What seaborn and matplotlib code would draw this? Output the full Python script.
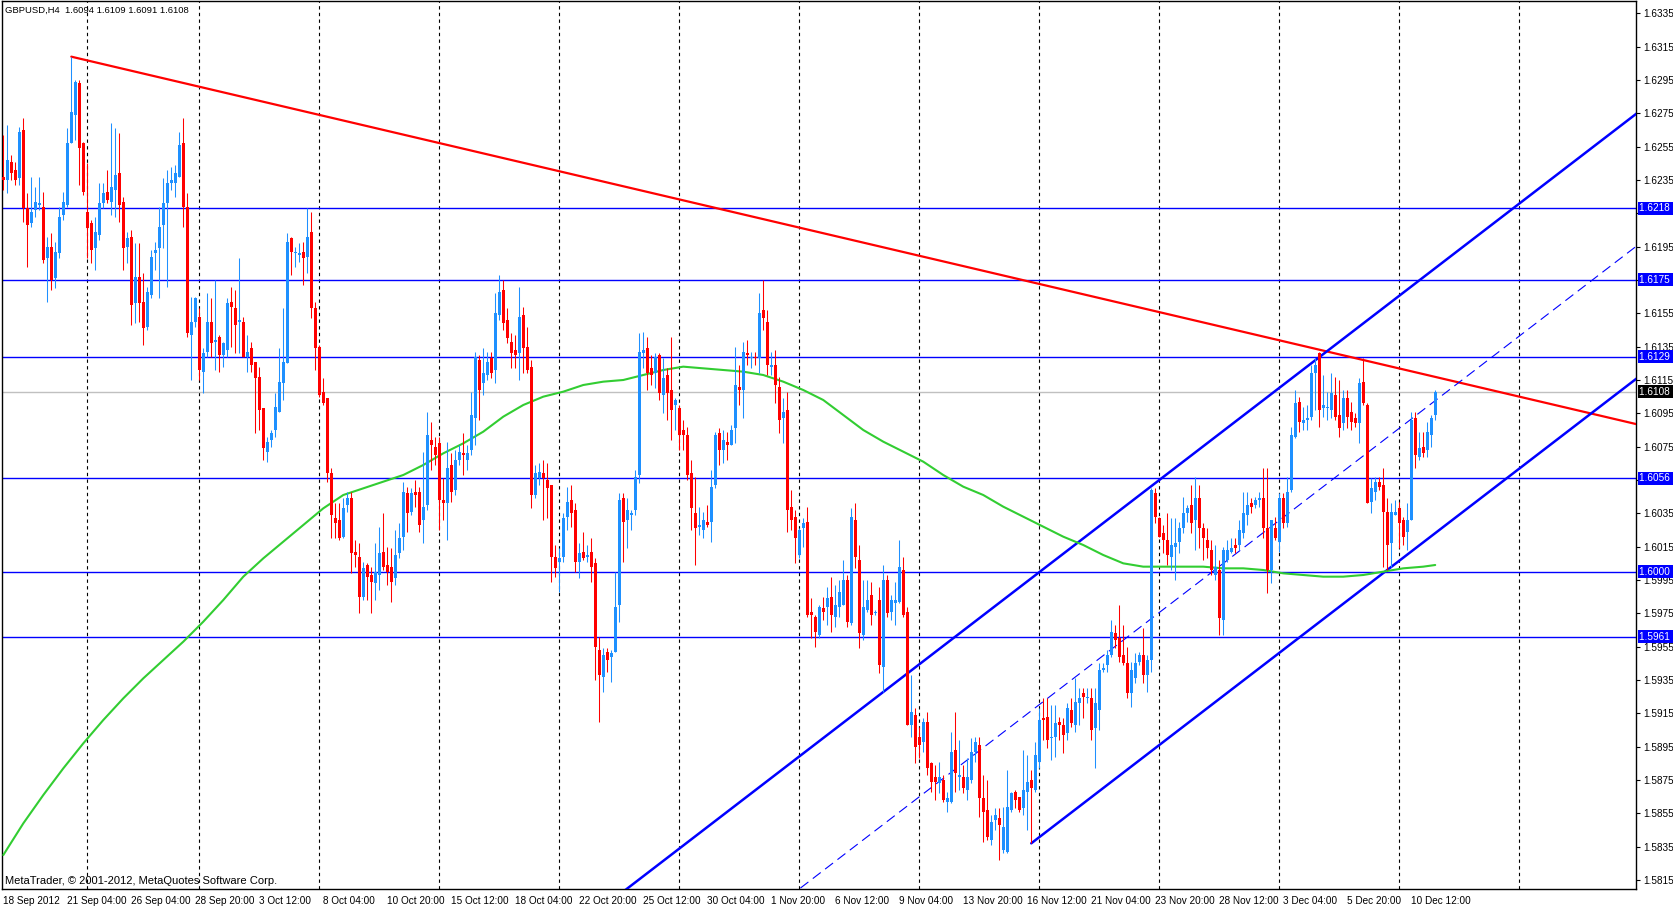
import numpy as np
import pandas as pd
import matplotlib
matplotlib.use("Agg")
import matplotlib.pyplot as plt
import matplotlib.transforms as mtransforms
import seaborn as sns

# GBPUSD H4 candles, in points (price * 10000)
open_pts = [
    16237, 16235, 16246, 16241, 16236, 16265, 16218, 16209, 16217, 16220,
    16219, 16188, 16195, 16176, 16191, 16214, 16220, 16257, 16274, 16293,
    16257, 16216, 16209, 16194, 16202, 16221, 16228, 16222, 16229, 16239,
    16222, 16195, 16201, 16161, 16177, 16162, 16147, 16166, 16191, 16194,
    16208, 16221, 16233, 16233, 16237, 16257, 16219, 16142, 16150, 16153,
    16120, 16132, 16150, 16138, 16141, 16130, 16133, 16162, 16158, 16150,
    16150, 16129, 16134, 16126, 16117, 16098, 16072, 16079, 16085, 16096,
    16113, 16125, 16200, 16191, 16190, 16192, 16189, 16204, 16158, 16135,
    16108, 16104, 16059, 16032, 16031, 16021, 16040, 16044, 16012, 16009,
    15985, 16004, 15998, 15993, 15998, 16012, 16004, 16003, 15996, 16011,
    16021, 16047, 16036, 16048, 16048, 16031, 16040, 16079, 16075, 16077,
    16043, 16041, 16064, 16049, 16067, 16071, 16067, 16073, 16092, 16127,
    16113, 16118, 16128, 16121, 16154, 16169, 16151, 16138, 16133, 16131,
    16154, 16135, 16123, 16046, 16056, 16059, 16055, 16052, 16009, 16006,
    16009, 16033, 16043, 16037, 16006, 16012, 16009, 16012, 16005, 15953,
    15937, 15952, 15949, 15952, 15980, 16044, 16031, 16034, 16037, 16058,
    16131, 16134, 16122, 16119, 16130, 16106, 16118, 16109, 16100, 16098,
    16085, 16082, 16059, 16035, 16027, 16025, 16030, 16030, 16052, 16083,
    16073, 16078, 16076, 16086, 16111, 16109, 16131, 16128, 16129, 16128,
    16157, 16150, 16123, 16124, 16111, 16092, 16097, 16039, 16033, 16010,
    16026, 16030, 15976, 15973, 15962, 15978, 15979, 15985, 15973, 15979,
    15980, 15995, 15969, 16031, 16007, 15962, 15977, 15986, 15975, 15983,
    15943, 15995, 15976, 15981, 15982, 16001, 15976, 15908, 15914, 15901,
    15898, 15910, 15885, 15877, 15873, 15875, 15862, 15862, 15893, 15877,
    15877, 15869, 15875, 15892, 15896, 15864, 15857, 15839, 15851, 15852,
    15833, 15832, 15857, 15868, 15865, 15858, 15868, 15875, 15869, 15886,
    15912, 15913, 15900, 15901, 15910, 15908, 15903, 15917, 15908, 15921,
    15927, 15924, 15924, 15906, 15917, 15941, 15944, 15950, 15963, 15960,
    15950, 15945, 15927, 15936, 15946, 15950, 15938, 15947, 16047, 16032,
    16023, 16019, 16009, 16015, 16018, 16026, 16035, 16040, 16031, 16044,
    16026, 16019, 16013, 15998, 16001, 15971, 16007, 16012, 16016, 16016,
    16023, 16034, 16041, 16040, 16043, 16044, 16026, 16001, 16026, 16018,
    16044, 16029, 16049, 16081, 16102, 16089, 16091, 16093, 16119, 16131,
    16098, 16098, 16097, 16106, 16094, 16089, 16104, 16096, 16092, 16089,
    16114, 16100, 16042, 16048, 16054, 16052, 16036, 16017, 16034, 16038,
    16031, 16024, 16031, 16092, 16069, 16075, 16073, 16082, 16094,
]
high_pts = [
    16262, 16268, 16250, 16246, 16267, 16272, 16227, 16237, 16231, 16237,
    16228, 16201, 16203, 16198, 16219, 16228, 16266, 16309, 16295, 16295,
    16258, 16245, 16211, 16213, 16233, 16233, 16241, 16269, 16266, 16263,
    16225, 16204, 16205, 16197, 16197, 16179, 16171, 16193, 16198, 16219,
    16236, 16241, 16243, 16244, 16264, 16272, 16227, 16165, 16165, 16158,
    16134, 16167, 16164, 16175, 16142, 16138, 16164, 16171, 16169, 16188,
    16153, 16142, 16138, 16126, 16123, 16098, 16081, 16085, 16107, 16134,
    16158, 16203, 16201, 16195, 16197, 16198, 16218, 16216, 16162, 16136,
    16116, 16104, 16062, 16041, 16041, 16044, 16048, 16048, 16019, 16017,
    16006, 16005, 16003, 16017, 16027, 16035, 16015, 16014, 16025, 16029,
    16054, 16051, 16050, 16055, 16051, 16072, 16096, 16090, 16081, 16081,
    16056, 16078, 16071, 16073, 16076, 16083, 16076, 16108, 16132, 16130,
    16134, 16132, 16132, 16167, 16178, 16175, 16158, 16143, 16142, 16171,
    16159, 16147, 16127, 16064, 16065, 16067, 16065, 16052, 16016, 16014,
    16035, 16051, 16052, 16041, 16017, 16024, 16016, 16020, 16008, 15961,
    15954, 15954, 15953, 16000, 16047, 16047, 16044, 16037, 16061, 16143,
    16144, 16141, 16130, 16131, 16131, 16128, 16122, 16141, 16104, 16100,
    16091, 16087, 16067, 16057, 16039, 16036, 16040, 16061, 16084, 16086,
    16085, 16084, 16088, 16135, 16124, 16138, 16139, 16132, 16132, 16167,
    16175, 16157, 16132, 16133, 16117, 16104, 16108, 16049, 16037, 16026,
    16032, 16039, 15984, 15974, 15980, 15985, 15991, 15997, 15992, 15995,
    16007, 15998, 16038, 16041, 16016, 15995, 15995, 15994, 15977, 15991,
    16004, 15998, 15986, 15994, 16019, 16009, 15979, 15938, 15918, 15907,
    15912, 15916, 15886, 15884, 15886, 15878, 15868, 15904, 15916, 15899,
    15884, 15888, 15900, 15901, 15901, 15878, 15875, 15854, 15858, 15858,
    15859, 15881, 15868, 15869, 15865, 15893, 15890, 15881, 15898, 15918,
    15924, 15924, 15920, 15920, 15913, 15912, 15921, 15924, 15936, 15930,
    15930, 15930, 15930, 15930, 15945, 15945, 15953, 15971, 15968, 15980,
    15968, 15955, 15946, 15951, 15952, 15966, 15950, 16050, 16050, 16033,
    16028, 16035, 16032, 16032, 16030, 16045, 16040, 16052, 16057, 16052,
    16029, 16026, 16019, 16016, 16007, 16015, 16019, 16020, 16020, 16031,
    16048, 16048, 16044, 16045, 16048, 16062, 16062, 16031, 16033, 16047,
    16047, 16057, 16087, 16109, 16105, 16099, 16100, 16124, 16128, 16132,
    16118, 16108, 16119, 16117, 16115, 16109, 16109, 16102, 16095, 16116,
    16128, 16101, 16056, 16057, 16057, 16062, 16044, 16041, 16043, 16042,
    16033, 16041, 16096, 16096, 16084, 16084, 16090, 16094, 16109,
]
low_pts = [
    16229, 16227, 16235, 16232, 16232, 16210, 16183, 16207, 16213, 16217,
    16185, 16162, 16169, 16170, 16188, 16211, 16219, 16257, 16259, 16232,
    16226, 16188, 16185, 16181, 16199, 16218, 16221, 16214, 16213, 16210,
    16181, 16185, 16148, 16149, 16150, 16136, 16145, 16164, 16181, 16164,
    16194, 16171, 16229, 16225, 16237, 16207, 16141, 16115, 16147, 16115,
    16107, 16129, 16129, 16121, 16120, 16123, 16129, 16135, 16131, 16131,
    16129, 16120, 16120, 16083, 16085, 16067, 16066, 16075, 16081, 16096,
    16103, 16125, 16178, 16183, 16186, 16172, 16179, 16152, 16121, 16105,
    16100, 16054, 16020, 16020, 16019, 16020, 16036, 15999, 16003, 15975,
    15983, 15983, 15975, 15983, 15989, 16001, 15992, 15982, 15992, 16008,
    16013, 16024, 16034, 16039, 16024, 16017, 16037, 16061, 16064, 16025,
    16031, 16019, 16042, 16046, 16064, 16058, 16061, 16070, 16076, 16091,
    16106, 16115, 16116, 16113, 16151, 16145, 16137, 16122, 16122, 16115,
    16119, 16119, 16038, 16044, 16052, 16031, 16032, 15994, 15997, 15988,
    16006, 16025, 16027, 16000, 15996, 16007, 16006, 15994, 15935, 15910,
    15928, 15940, 15934, 15952, 15970, 16006, 16014, 16025, 16034, 16053,
    16122, 16109, 16112, 16110, 16103, 16095, 16091, 16079, 16085, 16073,
    16073, 16055, 16025, 16004, 16022, 16020, 16027, 16018, 16050, 16064,
    16065, 16067, 16076, 16077, 16100, 16092, 16124, 16122, 16124, 16119,
    16145, 16118, 16118, 16101, 16083, 16077, 16024, 16025, 16005, 16008,
    16015, 15973, 15960, 15955, 15960, 15971, 15968, 15964, 15967, 15973,
    15980, 15967, 15968, 16002, 15954, 15959, 15976, 15968, 15974, 15939,
    15928, 15973, 15971, 15968, 15981, 15973, 15908, 15901, 15885, 15888,
    15892, 15878, 15868, 15863, 15867, 15862, 15856, 15861, 15868, 15869,
    15867, 15863, 15873, 15886, 15853, 15838, 15839, 15836, 15845, 15827,
    15831, 15831, 15856, 15858, 15856, 15854, 15845, 15837, 15868, 15882,
    15899, 15894, 15887, 15889, 15899, 15891, 15899, 15907, 15904, 15908,
    15912, 15921, 15899, 15882, 15905, 15940, 15940, 15949, 15954, 15946,
    15944, 15924, 15919, 15933, 15944, 15933, 15928, 15940, 16029, 16021,
    16011, 16004, 16001, 15995, 16011, 16023, 16030, 16023, 16013, 16014,
    16007, 16008, 15998, 15995, 15962, 15962, 16006, 16011, 16011, 16013,
    16020, 16028, 16035, 16038, 16039, 16020, 15987, 15993, 16019, 16012,
    16026, 16027, 16048, 16080, 16084, 16085, 16085, 16091, 16097, 16087,
    16093, 16091, 16092, 16091, 16081, 16085, 16086, 16085, 16087, 16077,
    16100, 16041, 16035, 16043, 16049, 16003, 16001, 16003, 16034, 16014,
    16016, 16013, 16031, 16062, 16067, 16069, 16069, 16075, 16091,
]
close_pts = [
    16235, 16247, 16239, 16235, 16264, 16218, 16208, 16216, 16222, 16221,
    16187, 16195, 16175, 16192, 16213, 16222, 16257, 16276, 16294, 16254,
    16228, 16206, 16193, 16204, 16221, 16227, 16223, 16231, 16238, 16220,
    16194, 16200, 16160, 16177, 16161, 16146, 16168, 16189, 16193, 16207,
    16221, 16233, 16235, 16239, 16256, 16219, 16143, 16150, 16164, 16121,
    16131, 16150, 16137, 16139, 16130, 16137, 16161, 16159, 16148, 16151,
    16129, 16132, 16124, 16116, 16097, 16074, 16078, 16083, 16099, 16114,
    16126, 16198, 16192, 16192, 16191, 16188, 16201, 16158, 16134, 16106,
    16101, 16059, 16034, 16029, 16020, 16038, 16044, 16011, 16010, 15985,
    16002, 15997, 15994, 16000, 16011, 16003, 16000, 15994, 16010, 16020,
    16048, 16035, 16047, 16046, 16028, 16039, 16082, 16076, 16070, 16043,
    16041, 16062, 16048, 16067, 16072, 16070, 16071, 16094, 16129, 16109,
    16119, 16126, 16119, 16155, 16168, 16149, 16140, 16131, 16130, 16153,
    16134, 16121, 16046, 16059, 16060, 16056, 16050, 16009, 16002, 16008,
    16032, 16042, 16035, 16006, 16011, 16008, 16010, 16003, 15955, 15938,
    15950, 15947, 15951, 15979, 16043, 16030, 16037, 16035, 16057, 16132,
    16133, 16119, 16118, 16129, 16107, 16116, 16107, 16097, 16103, 16082,
    16082, 16058, 16038, 16026, 16028, 16031, 16028, 16051, 16082, 16073,
    16079, 16076, 16085, 16112, 16109, 16132, 16130, 16129, 16128, 16155,
    16152, 16124, 16124, 16112, 16091, 16096, 16037, 16031, 16020, 16025,
    16029, 15974, 15974, 15964, 15979, 15976, 15984, 15974, 15980, 15988,
    15995, 15970, 16033, 16009, 15963, 15979, 15983, 15974, 15976, 15944,
    15995, 15975, 15983, 15983, 16003, 15974, 15908, 15916, 15895, 15896,
    15910, 15882, 15874, 15874, 15877, 15863, 15864, 15892, 15879, 15878,
    15870, 15877, 15892, 15898, 15864, 15856, 15841, 15850, 15854, 15848,
    15847, 15859, 15867, 15863, 15857, 15869, 15874, 15870, 15890, 15911,
    15911, 15899, 15901, 15909, 15908, 15902, 15918, 15909, 15922, 15924,
    15925, 15925, 15905, 15921, 15941, 15942, 15950, 15964, 15959, 15949,
    15945, 15927, 15941, 15945, 15950, 15938, 15947, 16049, 16033, 16021,
    16019, 16010, 16016, 16017, 16026, 16035, 16038, 16029, 16044, 16026,
    16020, 16014, 16001, 16003, 15972, 16013, 16013, 16014, 16014, 16025,
    16035, 16040, 16039, 16043, 16044, 16026, 16001, 16031, 16020, 16044,
    16029, 16048, 16082, 16101, 16090, 16091, 16092, 16119, 16124, 16097,
    16100, 16099, 16107, 16093, 16086, 16104, 16093, 16090, 16089, 16113,
    16101, 16041, 16050, 16054, 16051, 16036, 16016, 16036, 16036, 16029,
    16021, 16031, 16091, 16070, 16074, 16071, 16084, 16092, 16108,
]

# moving average (green), sampled every 5 bars
ma_bars = list(range(0, 356, 5)) + [358]
ma_pts = [
    15830, 15849, 15866, 15882, 15897, 15911, 15924, 15936, 15947, 15958,
    15970, 15983, 15997, 16008, 16018, 16028, 16038, 16046, 16050, 16054,
    16058, 16064, 16071, 16077, 16084, 16093, 16100, 16105, 16108, 16112,
    16114, 16115, 16118, 16121, 16123, 16122, 16121, 16120, 16118, 16114,
    16109, 16103, 16094, 16085, 16078, 16072, 16066, 16058, 16051, 16046,
    16039, 16033, 16027, 16021, 16016, 16010, 16005, 16003, 16003, 16003,
    16003, 16002, 16002, 16001, 15999, 15998, 15997, 15997, 15998, 16000,
    16002, 16003, 16004,
]

date_labels = [
    "18 Sep 2012", "21 Sep 04:00", "26 Sep 04:00", "28 Sep 20:00", "3 Oct 12:00",
    "8 Oct 04:00", "10 Oct 20:00", "15 Oct 12:00", "18 Oct 04:00", "22 Oct 20:00",
    "25 Oct 12:00", "30 Oct 04:00", "1 Nov 20:00", "6 Nov 12:00", "9 Nov 04:00",
    "13 Nov 20:00", "16 Nov 12:00", "21 Nov 04:00", "23 Nov 20:00", "28 Nov 12:00",
    "3 Dec 04:00", "5 Dec 20:00", "10 Dec 12:00",
]
price_ticks = [
    1.6335, 1.6315, 1.6295, 1.6275, 1.6255, 1.6235, 1.6215, 1.6195, 1.6175,
    1.6155, 1.6135, 1.6115, 1.6095, 1.6075, 1.6055, 1.6035, 1.6015, 1.5995,
    1.5975, 1.5955, 1.5935, 1.5915, 1.5895, 1.5875, 1.5855, 1.5835, 1.5815,
]
week_bars = [21, 49, 79, 109, 139, 169, 199, 229, 259, 289, 319, 349, 379]
level_prices = [1.6218, 1.6175, 1.6129, 1.6056, 1.6000, 1.5961]
bid_price = 1.6108

# trend line anchors (bar, price)
red_line_bars = [17, 340]
red_line_prices = [1.6309, 1.6127]
channel_bars = [257, 346]
channel_prices = [1.5837, 1.6001]
channel_width = 0.0159

df = pd.DataFrame({
    "open": open_pts, "high": high_pts, "low": low_pts, "close": close_pts,
}) / 10000
df["high"] = df[["high", "open", "close"]].max(axis=1)
df["low"] = df[["low", "open", "close"]].min(axis=1)
df["bar"] = np.arange(len(df))
df["up"] = df["close"] >= df["open"]

BULL = "#1E90FF"
BEAR = "#FF0000"
LINE_BLUE = "#0000FF"

sns.set_style("white")
plt.rcParams["font.family"] = ["Liberation Sans", "DejaVu Sans"]

fig = plt.figure(figsize=(16.74, 9.06), dpi=100)
ax = fig.add_axes([2 / 1674, 17 / 906, 1634 / 1674, 888 / 906])
ax.set_xlim(-0.33, 408.2)
ax.set_ylim(1.58096, 1.63424)

# weekly dashed grid
for b in week_bars:
    ax.axvline(b, color="black", lw=0.8, ls=(0, (3, 3)), zorder=1)

# horizontal levels
for p in level_prices:
    ax.axhline(p, color=LINE_BLUE, lw=1.0, zorder=2)
ax.axhline(bid_price, color="#C0C0C0", lw=1.0, zorder=2)

# red resistance line
rs = (red_line_prices[1] - red_line_prices[0]) / (red_line_bars[1] - red_line_bars[0])
rx = np.array([red_line_bars[0], 420])
ax.plot(rx, red_line_prices[0] + rs * (rx - red_line_bars[0]), color=BEAR, lw=1.6, zorder=3)

# equidistant channel
cs = (channel_prices[1] - channel_prices[0]) / (channel_bars[1] - channel_bars[0])
lx = np.array([channel_bars[0], 420])
ax.plot(lx, channel_prices[0] + cs * (lx - channel_bars[0]), color=LINE_BLUE, lw=1.8, zorder=3)
ux = np.array([100, 420])
ax.plot(ux, channel_prices[0] + cs * (ux - channel_bars[0]) + channel_width,
        color=LINE_BLUE, lw=1.8, zorder=3)
ax.plot(ux, channel_prices[0] + cs * (ux - channel_bars[0]) + channel_width / 2,
        color=LINE_BLUE, lw=0.8, ls=(0, (9, 5)), zorder=3)

# moving average
sns.lineplot(x=ma_bars, y=np.array(ma_pts) / 10000, ax=ax, color="#32CD32",
             lw=1.5, zorder=4, legend=False)

# candles
colors = np.where(df["up"], BULL, BEAR)
ax.vlines(df["bar"], df["low"], df["high"], colors=colors, lw=0.75, zorder=5)
body = (df["close"] - df["open"]).abs().clip(lower=0.00005)
ax.bar(df["bar"], body, bottom=df[["open", "close"]].min(axis=1), width=0.72,
       color=colors, linewidth=0, zorder=6)

# axes styling
for s in ax.spines.values():
    s.set_color("black")
    s.set_linewidth(1.0)
ax.set_xticks(np.arange(0, 16 * len(date_labels), 16))
ax.set_xticklabels(date_labels, ha="left")
shift = mtransforms.ScaledTranslation(2 / 100, 0, fig.dpi_scale_trans)
for lab in ax.get_xticklabels():
    lab.set_transform(lab.get_transform() + shift)
ax.tick_params(axis="x", direction="out", length=3, width=0.8, pad=2,
               labelsize=7.2, colors="black")

# scale labels hidden under the level boxes are left blank, as on the terminal
covered = [min(abs(t - p) for p in level_prices) < 0.0004 for t in price_ticks]
ax.yaxis.tick_right()
ax.set_yticks(price_ticks)
ax.set_yticklabels(["" if c else f"{t:.4f}" for t, c in zip(price_ticks, covered)])
ax.tick_params(axis="y", direction="out", length=3, width=0.8, pad=2,
               labelsize=7.2, colors="black")
ax.set_xlabel("")
ax.set_ylabel("")

# price boxes on the right scale
trans = mtransforms.blended_transform_factory(ax.transAxes, ax.transData)
trans = trans + mtransforms.ScaledTranslation(3 / 100, 0, fig.dpi_scale_trans)
for p in level_prices:
    ax.text(1.0, p, f"{p:.4f} ", transform=trans, ha="left", va="center",
            fontsize=7.2, color="white", clip_on=False, zorder=10,
            bbox=dict(boxstyle="square,pad=0.15", fc=LINE_BLUE, ec="none"))
ax.text(1.0, bid_price, f"{bid_price:.4f} ", transform=trans, ha="left", va="center",
        fontsize=7.2, color="white", clip_on=False, zorder=10,
        bbox=dict(boxstyle="square,pad=0.15", fc="black", ec="none"))

last = df.iloc[-1]
fig.text(5 / 1674, 1 - 10 / 906,
         f"GBPUSD,H4  {last['open']:.4f} {last['high']:.4f} {last['low']:.4f} {last['close']:.4f}",
         fontsize=6.8, va="center", ha="left", color="black")
fig.text(5 / 1674, 1 - 881 / 906, "MetaTrader, © 2001-2012, MetaQuotes Software Corp.",
         fontsize=8.0, va="center", ha="left", color="black")

fig.savefig("out.png", dpi=100, facecolor="white")
